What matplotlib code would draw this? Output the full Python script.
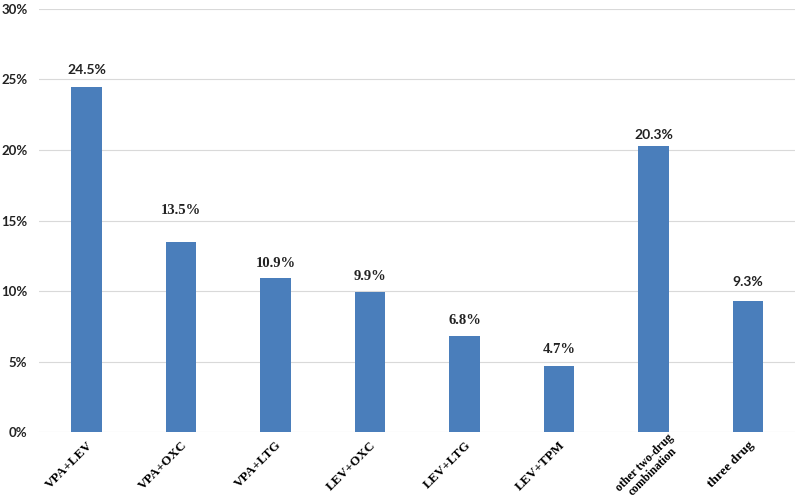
import matplotlib
matplotlib.use("Agg")
import matplotlib.pyplot as plt
from matplotlib.ticker import FuncFormatter
from matplotlib.transforms import ScaledTranslation

categories = ["VPA+LEV", "VPA+OXC", "VPA+LTG", "LEV+OXC", "LEV+LTG", "LEV+TPM",
              "other two-drug\ncombination", "three drug"]
values = [24.5, 13.5, 10.9, 9.9, 6.8, 4.7, 20.3, 9.3]
yticks = [0, 5, 10, 15, 20, 25, 30]

# label placement / font per bar (the source figure is a bit inconsistent)
label_gap_px = [17, 31, 15, 16, 16, 16, 11, 19]
label_font = ["Lato", "Liberation Serif", "Liberation Serif", "Liberation Serif",
              "Liberation Serif", "Liberation Serif", "Lato", "Lato"]

bar_color = "#4a7ebb"

fig = plt.figure(figsize=(8, 4.95), dpi=100)
ax = fig.add_axes([0.049, 0.127, 0.945, 0.855])

x = range(len(categories))
bars = ax.bar(x, values, width=0.32, color=bar_color, zorder=3)

for b, v, gap, fam in zip(bars, values, label_gap_px, label_font):
    ax.annotate("{:.1f}%".format(v), (b.get_x() + b.get_width() / 2, v),
                xytext=(0, gap * 0.72), textcoords="offset points", ha="center", va="center",
                fontsize=10.5 if fam != "Lato" else 10, fontweight="bold", family=fam,
                color="#222222")

ax.set_ylim(0, 30)
ax.set_xlim(-0.5, len(categories) - 0.5)
ax.set_yticks(yticks)
ax.yaxis.set_major_formatter(FuncFormatter(lambda v, p: "{:d}%".format(int(v))))
ax.grid(axis="y", color="#d9d9d9", linewidth=0.8, zorder=0)
for s in ax.spines.values():
    s.set_visible(False)
ax.tick_params(length=0)
ax.tick_params(axis="y", pad=8.5)
for lab in ax.get_yticklabels():
    lab.set_family("Lato")
    lab.set_fontweight("bold")
    lab.set_fontsize(9.5)
    lab.set_color("#222222")

ax.set_xticks(list(x))
ax.set_xticklabels(categories, rotation=45, ha="right", rotation_mode="anchor",
                   family="Liberation Serif", fontweight="bold", fontsize=9.5,
                   multialignment="center", linespacing=1.0)
ax.tick_params(axis="x", pad=5)

# two-line label sits a little right/up in the original
two_line = ax.get_xticklabels()[6]
two_line.set_fontsize(8.5)
two_line.set_transform(two_line.get_transform() +
                       ScaledTranslation(14 / 100, 7 / 100, fig.dpi_scale_trans))

fig.savefig("out.png")
